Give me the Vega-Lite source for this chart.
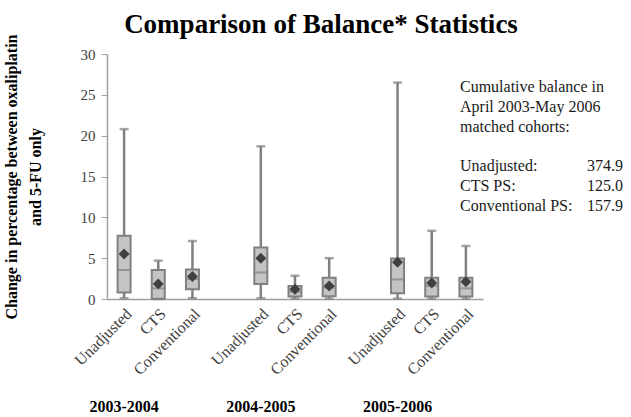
{
  "$schema": "https://vega.github.io/schema/vega-lite/v6.json",
  "padding": {"left": 2, "top": 10, "right": 0, "bottom": 0},
  "title": {"text": "Comparison of Balance* Statistics", "font": "Liberation Serif", "fontSize": 27, "fontWeight": "bold", "color": "black", "anchor": "middle", "offset": -5, "dx": 8},
  "config": {"view": {"stroke": null}, "font": "Liberation Serif"},
  "spacing": 0,
  "bounds": "flush",
  "hconcat": [
    {
      "width": 376,
      "height": 245,
      "data": {"values": [
        {"key": "2003-2004|Unadjusted", "year": "2003-2004", "method": "Unadjusted", "min": 0.1, "q1": 0.8, "median": 3.55, "q3": 7.75, "max": 20.8, "mean": 5.5},
        {"key": "2003-2004|CTS", "year": "2003-2004", "method": "CTS", "min": 0.0, "q1": 0.0, "median": 1.3, "q3": 3.55, "max": 4.7, "mean": 1.85},
        {"key": "2003-2004|Conventional", "year": "2003-2004", "method": "Conventional", "min": 0.1, "q1": 1.2, "median": 2.45, "q3": 3.6, "max": 7.1, "mean": 2.75},
        {"key": "2004-2005|Unadjusted", "year": "2004-2005", "method": "Unadjusted", "min": 0.1, "q1": 1.85, "median": 3.25, "q3": 6.3, "max": 18.7, "mean": 5.0},
        {"key": "2004-2005|CTS", "year": "2004-2005", "method": "CTS", "min": 0.05, "q1": 0.3, "median": 0.9, "q3": 1.6, "max": 2.85, "mean": 1.2},
        {"key": "2004-2005|Conventional", "year": "2004-2005", "method": "Conventional", "min": 0.05, "q1": 0.35, "median": 1.4, "q3": 2.6, "max": 5.0, "mean": 1.6},
        {"key": "2005-2006|Unadjusted", "year": "2005-2006", "method": "Unadjusted", "min": 0.05, "q1": 0.7, "median": 2.4, "q3": 4.95, "max": 26.5, "mean": 4.5},
        {"key": "2005-2006|CTS", "year": "2005-2006", "method": "CTS", "min": 0.05, "q1": 0.3, "median": 1.6, "q3": 2.6, "max": 8.35, "mean": 1.95},
        {"key": "2005-2006|Conventional", "year": "2005-2006", "method": "Conventional", "min": 0.05, "q1": 0.3, "median": 1.3, "q3": 2.6, "max": 6.5, "mean": 2.1}
      ]},
      "layer": [
        {
          "mark": {"type": "rule", "color": "#808080", "strokeWidth": 2.5},
          "encoding": {
            "x": {"field": "key", "type": "nominal",
              "scale": {"domain": ["2003-2004|Unadjusted", "2003-2004|CTS", "2003-2004|Conventional", "gap1", "2004-2005|Unadjusted", "2004-2005|CTS", "2004-2005|Conventional", "gap2", "2005-2006|Unadjusted", "2005-2006|CTS", "2005-2006|Conventional"], "paddingInner": 0, "paddingOuter": 0},
              "axis": {"labelExpr": "indexof(datum.value,'|')>0 ? split(datum.value,'|')[1] : ''", "labelAngle": -45, "labelAlign": "right", "labelBaseline": "middle", "ticks": false, "domainColor": "#a0a0a0", "domainWidth": 1.5, "labelFont": "Liberation Serif", "labelFontSize": 16, "labelColor": "#404040", "labelPadding": 12, "labelOffset": 5, "title": null, "labelOverlap": false, "labelBound": false}},
            "y": {"field": "min", "type": "quantitative",
              "scale": {"domain": [0, 30], "nice": false},
              "axis": {"title": ["Change in percentage between oxaliplatin", "and 5-FU only"], "titleFont": "Liberation Serif", "titleFontSize": 16, "titleFontWeight": "bold", "titleColor": "black", "titlePadding": 37, "titleLineHeight": 24, "values": [0, 5, 10, 15, 20, 25, 30], "grid": false, "domainColor": "#a0a0a0", "domainWidth": 1.5, "tickColor": "#a0a0a0", "tickSize": 6, "labelFont": "Liberation Serif", "labelFontSize": 15, "labelColor": "#404040", "labelPadding": 6}},
            "y2": {"field": "max"}
          }
        },
        {
          "mark": {"type": "bar", "size": 13, "fill": "#c4c4c4", "stroke": "#808080", "strokeWidth": 2},
          "encoding": {
            "x": {"field": "key", "type": "nominal", "axis": null},
            "y": {"field": "q1", "type": "quantitative", "axis": null},
            "y2": {"field": "q3"}
          }
        },
        {
          "mark": {"type": "tick", "color": "#808080", "thickness": 2, "size": 14},
          "encoding": {
            "x": {"field": "key", "type": "nominal", "axis": null},
            "y": {"field": "median", "type": "quantitative", "axis": null}
          }
        },
        {
          "mark": {"type": "tick", "color": "#808080", "thickness": 2.5, "size": 9},
          "encoding": {
            "x": {"field": "key", "type": "nominal", "axis": null},
            "y": {"field": "max", "type": "quantitative", "axis": null}
          }
        },
        {
          "mark": {"type": "tick", "color": "#808080", "thickness": 2.5, "size": 9},
          "encoding": {
            "x": {"field": "key", "type": "nominal", "axis": null},
            "y": {"field": "min", "type": "quantitative", "axis": null}
          }
        },
        {
          "mark": {"type": "point", "shape": "diamond", "filled": true, "color": "#404040", "opacity": 1, "size": 120},
          "encoding": {
            "x": {"field": "key", "type": "nominal",
              "axis": {"values": ["2003-2004|Unadjusted", "2004-2005|Unadjusted", "2005-2006|Unadjusted"], "labelExpr": "split(datum.value,'|')[0]", "orient": "bottom", "offset": 99, "domain": false, "ticks": false, "labelAngle": 0, "labelAlign": "center", "labelBaseline": "top", "labelFont": "Liberation Serif", "labelFontSize": 16, "labelFontWeight": "bold", "labelColor": "black", "title": null, "labelPadding": 0, "labelOffset": 0, "labelOverlap": false, "labelBound": false}},
            "y": {"field": "mean", "type": "quantitative", "axis": null}
          }
        }
      ],
      "resolve": {"axis": {"x": "independent", "y": "independent"}}
    },
    {
      "width": 140,
      "height": 184,
      "data": {"values": [
        {"line": 0, "col": "label", "text": "Cumulative balance in"},
        {"line": 1, "col": "label", "text": "April 2003-May  2006"},
        {"line": 2, "col": "label", "text": "matched cohorts:"},
        {"line": 4, "col": "label", "text": "Unadjusted:"},
        {"line": 4, "col": "value", "text": "374.9"},
        {"line": 5, "col": "label", "text": "CTS PS:"},
        {"line": 5, "col": "value", "text": "125.0"},
        {"line": 6, "col": "label", "text": "Conventional PS:"},
        {"line": 6, "col": "value", "text": "157.9"}
      ]},
      "encoding": {
        "x": {"field": "col", "type": "nominal", "scale": {"type": "point", "domain": ["label", "value"], "padding": 0}, "axis": null},
        "y": {"field": "line", "type": "quantitative", "scale": {"domain": [-1.7, 7.65], "reverse": true, "nice": false, "zero": false}, "axis": null},
        "text": {"field": "text"}
      },
      "layer": [
        {"transform": [{"filter": "datum.col === 'label'"}], "mark": {"type": "text", "align": "left", "baseline": "middle", "dx": -23, "font": "Liberation Serif", "fontSize": 16, "color": "#1a1a1a"}},
        {"transform": [{"filter": "datum.col === 'value'"}], "mark": {"type": "text", "align": "right", "baseline": "middle", "font": "Liberation Serif", "fontSize": 16, "color": "#1a1a1a"}}
      ]
    }
  ]
}
